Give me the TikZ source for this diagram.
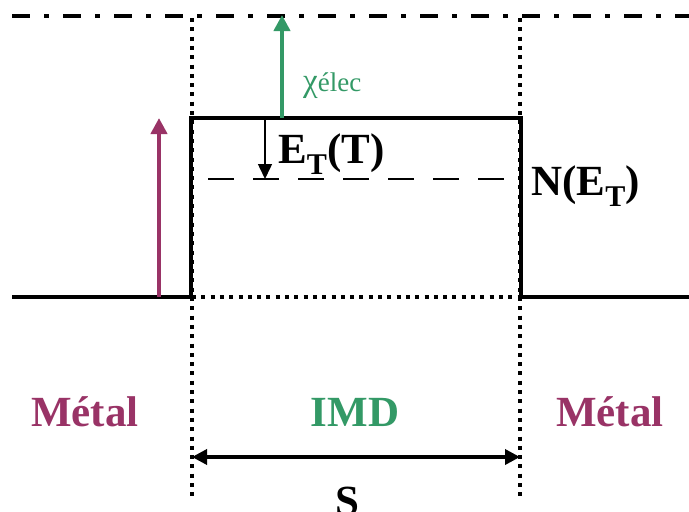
\documentclass[tikz,border=0pt]{standalone}
\usepackage{fontspec}
\setmainfont{Liberation Serif}
\usetikzlibrary{arrows.meta}
\definecolor{Plum}{HTML}{993366}
\definecolor{Jade}{HTML}{339966}

\begin{document}
\begin{tikzpicture}[x=1pt,y=-1pt,
    level/.style={line width=3.5pt},
    border/.style={line width=4pt,dash pattern=on 4pt off 5.3pt},
    big/.style={font=\fontsize{43}{43}\selectfont\bfseries},
    jump/.style={line width=4pt,-{Triangle[width=16pt,length=16pt]}}]
  \useasboundingbox (0,0) rectangle (689,512);
  % vacuum level and interfaces
  \coordinate (vacL) at (12,16);
  \coordinate (vacR) at (689,16);
  \draw[line width=4pt,dash pattern=on 18pt off 14pt on 5pt off 14pt] (vacL) -- (vacR);
  \draw[border] (192,18) -- (192,500);
  \draw[border] (520,18) -- (520,500);
  \draw[border] (192,297) -- (520,297);
  % metal / IMD bands
  \coordinate (fermiL) at (12,297);
  \coordinate (fermiR) at (689,297);
  \coordinate (cbL) at (191,297);
  \coordinate (cbR) at (521,297);
  \draw[level] (fermiL) -- (cbL) |- (521,118) -- (cbR) -- (fermiR);
  % trap level
  \draw[line width=1.5pt,dash pattern=on 26pt off 19pt] (208,179) -- (505,179);
  % energy steps
  \coordinate (phiB) at (159,297);
  \coordinate (phiT) at (159,118);
  \coordinate (chiB) at (282,118);
  \coordinate (chiT) at (282,15);
  \coordinate (etB) at (265,118);
  \coordinate (etT) at (265,179);
  \draw[jump,Plum] (phiB) -- (phiT);
  \draw[jump,Jade] (chiB) -- (chiT);
  \draw[line width=1.5pt,-{Triangle[width=14pt,length=15pt]}] (etB) -- (etT);
  \node[anchor=base west,inner sep=0pt,text=Jade,font=\fontsize{27}{27}\selectfont] (chi) at (303,91) {{\fontsize{33}{33}\selectfont χ}élec};
  \node[big,anchor=base west,inner sep=0pt] (et) at (278,163) {E\textsubscript{T}(T)};
  \node[big,anchor=base west,inner sep=0pt] (net) at (531,195) {N(E\textsubscript{T})};
  % regions
  \node[big,anchor=base,inner sep=0pt,text=Plum] (metL) at (85,426) {Métal};
  \node[big,anchor=base,inner sep=0pt,text=Jade] (imd) at (355,426) {IMD};
  \node[big,anchor=base,inner sep=0pt,text=Plum] (metR) at (610,426) {Métal};
  % spacing
  \coordinate (sL) at (192,457);
  \coordinate (sR) at (520,457);
  \draw[line width=3.5pt,{Triangle[width=15pt,length=15pt]}-{Triangle[width=15pt,length=15pt]}] (sL) -- (sR);
  \node[big,anchor=base,inner sep=0pt] (s) at (347,515) {S};
\end{tikzpicture}
\end{document}
